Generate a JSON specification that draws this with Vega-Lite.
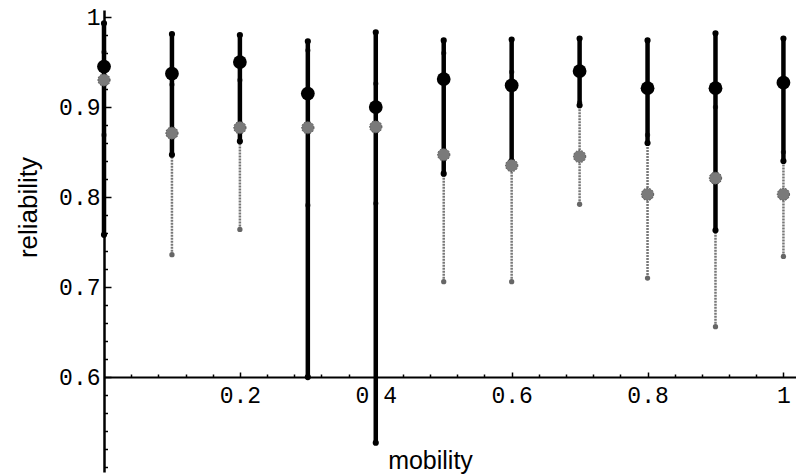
{
  "$schema": "https://vega.github.io/schema/vega-lite/v6.json",
  "width": 692,
  "height": 462,
  "autosize": {"type": "none"},
  "padding": {"left": 104, "top": 10, "right": 0, "bottom": 3},
  "background": "white",
  "config": {"view": {"stroke": null}},
  "data": {
    "values": [
      {"mobility": 0.0, "series": "black", "mean": 0.945, "lo": 0.758, "hi": 0.993},
      {"mobility": 0.1, "series": "black", "mean": 0.937, "lo": 0.847, "hi": 0.981},
      {"mobility": 0.2, "series": "black", "mean": 0.950, "lo": 0.862, "hi": 0.980},
      {"mobility": 0.3, "series": "black", "mean": 0.915, "lo": 0.600, "hi": 0.973},
      {"mobility": 0.4, "series": "black", "mean": 0.900, "lo": 0.527, "hi": 0.983},
      {"mobility": 0.5, "series": "black", "mean": 0.931, "lo": 0.826, "hi": 0.974},
      {"mobility": 0.6, "series": "black", "mean": 0.924, "lo": 0.840, "hi": 0.975},
      {"mobility": 0.7, "series": "black", "mean": 0.940, "lo": 0.902, "hi": 0.976},
      {"mobility": 0.8, "series": "black", "mean": 0.921, "lo": 0.860, "hi": 0.974},
      {"mobility": 0.9, "series": "black", "mean": 0.921, "lo": 0.763, "hi": 0.982},
      {"mobility": 1.0, "series": "black", "mean": 0.927, "lo": 0.840, "hi": 0.976},
      {"mobility": 0.0, "series": "gray", "mean": 0.930, "lo": 0.869, "hi": 0.961},
      {"mobility": 0.1, "series": "gray", "mean": 0.871, "lo": 0.736, "hi": 0.925},
      {"mobility": 0.2, "series": "gray", "mean": 0.877, "lo": 0.764, "hi": 0.930},
      {"mobility": 0.3, "series": "gray", "mean": 0.877, "lo": 0.791, "hi": 0.963},
      {"mobility": 0.4, "series": "gray", "mean": 0.878, "lo": 0.793, "hi": 0.926},
      {"mobility": 0.5, "series": "gray", "mean": 0.847, "lo": 0.706, "hi": 0.960},
      {"mobility": 0.6, "series": "gray", "mean": 0.835, "lo": 0.706, "hi": 0.939},
      {"mobility": 0.7, "series": "gray", "mean": 0.845, "lo": 0.792, "hi": 0.905},
      {"mobility": 0.8, "series": "gray", "mean": 0.803, "lo": 0.710, "hi": 0.869},
      {"mobility": 0.9, "series": "gray", "mean": 0.821, "lo": 0.656, "hi": 0.900},
      {"mobility": 1.0, "series": "gray", "mean": 0.803, "lo": 0.734, "hi": 0.850}
    ]
  },
  "resolve": {"axis": {"x": "independent", "y": "independent"}},
  "layer": [
    {
      "transform": [{"filter": "datum.series === 'gray'"}],
      "mark": {"type": "rule", "color": "#777777", "strokeWidth": 2.5, "strokeDash": [2, 1]},
      "encoding": {
        "x": {
          "field": "mobility", "type": "quantitative",
          "scale": {"domain": [0, 1.0185], "nice": false, "zero": false},
          "axis": {
            "orient": "bottom", "offset": -95,
            "values": [0.2, 0.4, 0.6, 0.8, 1],
            "format": ".1~f",
            "labelFont": "Liberation Mono", "labelFontSize": 23, "labelColor": "black",
            "labelPadding": 12, "labelOverlap": false, "labelFlush": false,
            "tickSize": -5, "tickColor": "black", "tickWidth": 1.5,
            "domainColor": "black", "domainWidth": 2, "grid": false,
            "title": "mobility", "titleFont": "Liberation Sans", "titleFontSize": 25,
            "titleFontWeight": "normal", "titleColor": "black",
            "titleX": 326, "titleY": 83, "titleAlign": "center", "titleBaseline": "middle"
          }
        },
        "y": {
          "field": "lo", "type": "quantitative",
          "scale": {"domain": [0.4945, 1.0078], "nice": false, "zero": false},
          "axis": {
            "orient": "left",
            "values": [0.6, 0.7, 0.8, 0.9, 1],
            "format": ".1~f",
            "labelFont": "Liberation Mono", "labelFontSize": 23, "labelColor": "black",
            "labelPadding": 11, "labelOverlap": false, "labelFlush": false,
            "labelBaseline": "middle",
            "tickSize": -7, "tickColor": "black", "tickWidth": 1.5,
            "domainColor": "black", "domainWidth": 2.5, "grid": false,
            "title": "reliability", "titleFont": "Liberation Sans", "titleFontSize": 26,
            "titleFontWeight": "normal", "titleColor": "black", "titleAngle": -90,
            "titleX": -76, "titleY": 197, "titleAlign": "center", "titleBaseline": "middle"
          }
        },
        "y2": {"field": "hi"}
      }
    },
    {
      "transform": [{"filter": "datum.series === 'gray'"}],
      "mark": {"type": "point", "filled": true, "color": "#666666", "size": 28, "opacity": 1},
      "encoding": {
        "x": {"field": "mobility", "type": "quantitative", "axis": null},
        "y": {"field": "lo", "type": "quantitative", "axis": null}
      }
    },
    {
      "transform": [{"filter": "datum.series === 'gray'"}],
      "mark": {"type": "point", "filled": true, "color": "#666666", "size": 28, "opacity": 1},
      "encoding": {
        "x": {"field": "mobility", "type": "quantitative", "axis": null},
        "y": {"field": "hi", "type": "quantitative", "axis": null}
      }
    },
    {
      "transform": [{"filter": "datum.series === 'black'"}],
      "mark": {"type": "rule", "color": "black", "strokeWidth": 4.5},
      "encoding": {
        "x": {
          "field": "mobility", "type": "quantitative",
          "axis": {
            "orient": "bottom", "offset": -95,
            "values": [0.04, 0.08, 0.12, 0.16, 0.24, 0.28, 0.32, 0.36, 0.44, 0.48, 0.52, 0.56, 0.64, 0.68, 0.72, 0.76, 0.84, 0.88, 0.92, 0.96],
            "labels": false, "domain": false, "grid": false,
            "tickSize": -3, "tickColor": "black", "tickWidth": 1.5, "title": null
          }
        },
        "y": {
          "field": "lo", "type": "quantitative",
          "axis": {
            "orient": "left",
            "values": [0.5, 0.52, 0.54, 0.56, 0.58, 0.62, 0.64, 0.66, 0.68, 0.72, 0.74, 0.76, 0.78, 0.82, 0.84, 0.86, 0.88, 0.92, 0.94, 0.96, 0.98],
            "labels": false, "domain": false, "grid": false,
            "tickSize": -3.5, "tickColor": "black", "tickWidth": 1.5, "title": null
          }
        },
        "y2": {"field": "hi"}
      }
    },
    {
      "transform": [{"filter": "datum.series === 'black'"}],
      "mark": {"type": "point", "filled": true, "color": "black", "size": 38, "opacity": 1},
      "encoding": {
        "x": {"field": "mobility", "type": "quantitative", "axis": null},
        "y": {"field": "lo", "type": "quantitative", "axis": null}
      }
    },
    {
      "transform": [{"filter": "datum.series === 'black'"}],
      "mark": {"type": "point", "filled": true, "color": "black", "size": 38, "opacity": 1},
      "encoding": {
        "x": {"field": "mobility", "type": "quantitative", "axis": null},
        "y": {"field": "hi", "type": "quantitative", "axis": null}
      }
    },
    {
      "transform": [{"filter": "datum.series === 'gray'"}],
      "mark": {"type": "point", "filled": true, "color": "#7a7a7a", "size": 150, "opacity": 1, "stroke": "#4a4a4a", "strokeWidth": 1, "strokeDash": [1.5, 1.5]},
      "encoding": {
        "x": {"field": "mobility", "type": "quantitative", "axis": null},
        "y": {"field": "mean", "type": "quantitative", "axis": null}
      }
    },
    {
      "transform": [{"filter": "datum.series === 'black'"}],
      "mark": {"type": "point", "filled": true, "color": "black", "size": 190, "opacity": 1},
      "encoding": {
        "x": {"field": "mobility", "type": "quantitative", "axis": null},
        "y": {"field": "mean", "type": "quantitative", "axis": null}
      }
    }
  ]
}
